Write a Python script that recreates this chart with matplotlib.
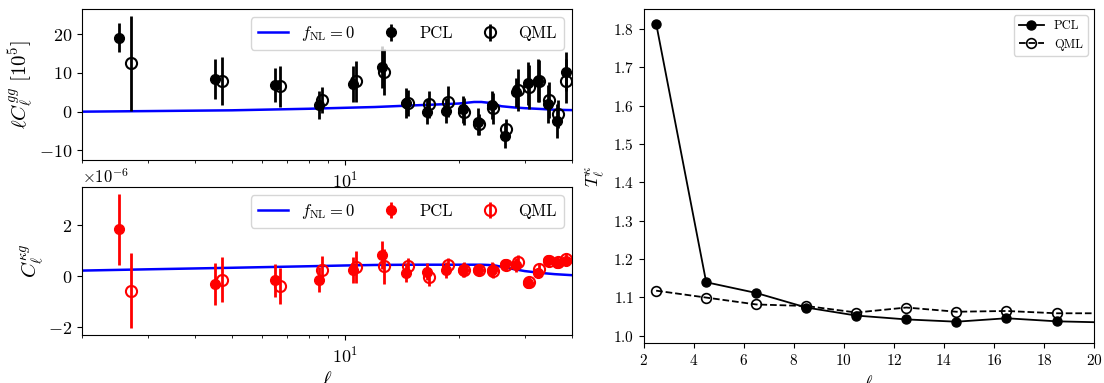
import numpy as np
import matplotlib
matplotlib.use("Agg")
import matplotlib.pyplot as plt

plt.rcParams['font.family'] = 'serif'
plt.rcParams['font.serif'] = ['cmr10', 'DejaVu Serif']
plt.rcParams['mathtext.fontset'] = 'cm'
plt.rcParams['axes.formatter.use_mathtext'] = True
plt.rcParams['axes.unicode_minus'] = True

# binned multipoles (QML shown shifted by +0.2)
ell = np.arange(2.5, 39.0, 2.0)
shift = 0.2

# l C_l^gg [1e5]
gg_pcl = [19.1, 8.4, 6.9, 1.8, 7.1, 11.5, 2.2, 0.0, 0.3, 0.6,
          -2.6, 1.7, -6.3, 5.0, 7.3, 8.0, 2.0, -2.3, 10.3]
gg_pcl_err = [3.7, 5.2, 4.3, 3.6, 4.6, 5.4, 3.9, 3.2, 3.3, 3.5,
              3.5, 3.7, 3.2, 3.7, 5.5, 5.6, 5.0, 4.4, 5.0]
gg_qml = [12.5, 7.9, 6.6, 3.0, 7.9, 10.3, 2.3, 1.9, 2.6, 0.0,
          -3.3, 0.9, -4.6, 5.6, 6.3, 7.9, 3.0, -0.6, 7.9]
gg_qml_err = [12.2, 6.2, 5.3, 3.3, 5.3, 6.0, 3.4, 3.5, 4.0, 3.4,
              2.8, 4.0, 2.8, 5.5, 5.7, 5.5, 4.7, 3.7, 5.7]

# C_l^{kappa g} [1e-6]
kg_pcl = [1.84, -0.30, -0.16, -0.13, 0.24, 0.83, 0.14, 0.17, 0.24, 0.24,
          0.24, 0.26, 0.46, 0.43, -0.26, 0.13, 0.62, 0.52, 0.58]
kg_pcl_err = [1.40, 0.83, 0.64, 0.50, 0.50, 0.54, 0.36, 0.33, 0.30, 0.28,
              0.20, 0.30, 0.20, 0.28, 0.20, 0.20, 0.15, 0.15, 0.20]
kg_qml = [-0.58, -0.13, -0.39, 0.26, 0.37, 0.39, 0.39, -0.05, 0.43, 0.26,
          0.24, 0.21, 0.43, 0.56, -0.22, 0.30, 0.60, 0.56, 0.66]
kg_qml_err = [1.47, 0.90, 0.70, 0.52, 0.63, 0.69, 0.33, 0.35, 0.30, 0.28,
              0.20, 0.30, 0.20, 0.28, 0.20, 0.20, 0.15, 0.15, 0.20]

# theory, f_NL = 0
th_ell = [2, 3, 5, 8, 10, 12, 15, 18, 20, 21, 22, 23, 24, 25, 26, 28, 30, 33, 36, 40]
th_gg = [0.0, 0.15, 0.35, 0.75, 1.0, 1.2, 1.6, 1.9, 2.1, 2.3, 2.5, 2.5, 2.3, 1.8,
         1.4, 1.1, 0.9, 0.7, 0.5, 0.4]
th_kg = [0.22, 0.27, 0.33, 0.39, 0.42, 0.44, 0.45, 0.45, 0.45, 0.45, 0.45, 0.45,
         0.44, 0.42, 0.37, 0.28, 0.2, 0.13, 0.08, 0.04]

# transfer function
t_ell = np.arange(2.5, 21.0, 2.0)
t_pcl = [1.814, 1.139, 1.111, 1.073, 1.052, 1.042, 1.036, 1.045, 1.037, 1.034]
t_qml = [1.117, 1.099, 1.081, 1.077, 1.060, 1.073, 1.062, 1.064, 1.058, 1.058]

fig = plt.figure(figsize=(11.04, 3.83), dpi=100)
ax1 = fig.add_axes([0.0743, 0.582, 0.4437, 0.3945])
ax2 = fig.add_axes([0.0743, 0.125, 0.4437, 0.387])
ax3 = fig.add_axes([0.583, 0.104, 0.408, 0.8725])

ms = 7
# top: gg
ax1.plot(th_ell, th_gg, color='b', lw=1.8, label=r'$f_{\rm NL}=0$')
ax1.errorbar(ell, gg_pcl, yerr=gg_pcl_err, fmt='o', color='k', ms=ms,
             elinewidth=2, label='PCL')
ax1.errorbar(ell + shift, gg_qml, yerr=gg_qml_err, fmt='o', color='k', mfc='none',
             ms=ms + 1, mew=1.5, elinewidth=2, label='QML')
ax1.set_xscale('log')
ax1.set_xlim(2, 40)
ax1.set_ylim(-12.5, 26.5)
ax1.set_yticks([-10, 0, 10, 20])
ax1.set_ylabel(r'$\ell C^{gg}_\ell\ [10^5]$', fontsize=15, labelpad=2)
ax1.legend(ncol=3, loc='upper right', fontsize=12, columnspacing=1.3,
           handlelength=1.8)

# bottom: kappa g
ax2.plot(th_ell, np.array(th_kg) * 1e-6, color='b', lw=1.8, label=r'$f_{\rm NL}=0$')
ax2.errorbar(ell, np.array(kg_pcl) * 1e-6, yerr=np.array(kg_pcl_err) * 1e-6, fmt='o',
             color='r', ms=ms, elinewidth=2, label='PCL')
ax2.errorbar(ell + shift, np.array(kg_qml) * 1e-6, yerr=np.array(kg_qml_err) * 1e-6,
             fmt='o', color='r', mfc='none', ms=ms + 1, mew=1.5, elinewidth=2,
             label='QML')
ax2.set_xscale('log')
ax2.set_xlim(2, 40)
ax2.set_ylim(-2.31e-6, 3.5e-6)
ax2.set_yticks([-2e-6, 0, 2e-6])
ax2.set_ylabel(r'$C^{\kappa g}_\ell$', fontsize=15, labelpad=2)
ax2.set_xlabel(r'$\ell$', fontsize=15)
ax2.legend(ncol=3, loc='upper right', fontsize=12, columnspacing=1.3,
           handlelength=1.8)

for ax in (ax1, ax2):
    ax.tick_params(labelsize=13)
    ax.yaxis.get_offset_text().set_fontsize(12)

# right: transfer function
ax3.plot(t_ell, t_pcl, 'o-', color='k', ms=6.5, lw=1.3, label='PCL')
ax3.plot(t_ell, t_qml, 'o--', color='k', mfc='none', ms=7, lw=1.3, mew=1.2, label='QML')
ax3.set_xlim(2, 20)
ax3.set_ylim(0.98, 1.852)
ax3.set_xticks(np.arange(2, 21, 2))
ax3.set_ylabel(r'$T^\kappa_\ell$', fontsize=13)
ax3.set_xlabel(r'$\ell$', fontsize=13)
ax3.tick_params(labelsize=11)
ax3.legend(loc='upper right', fontsize=9)

fig.savefig('out.png', dpi=100)
